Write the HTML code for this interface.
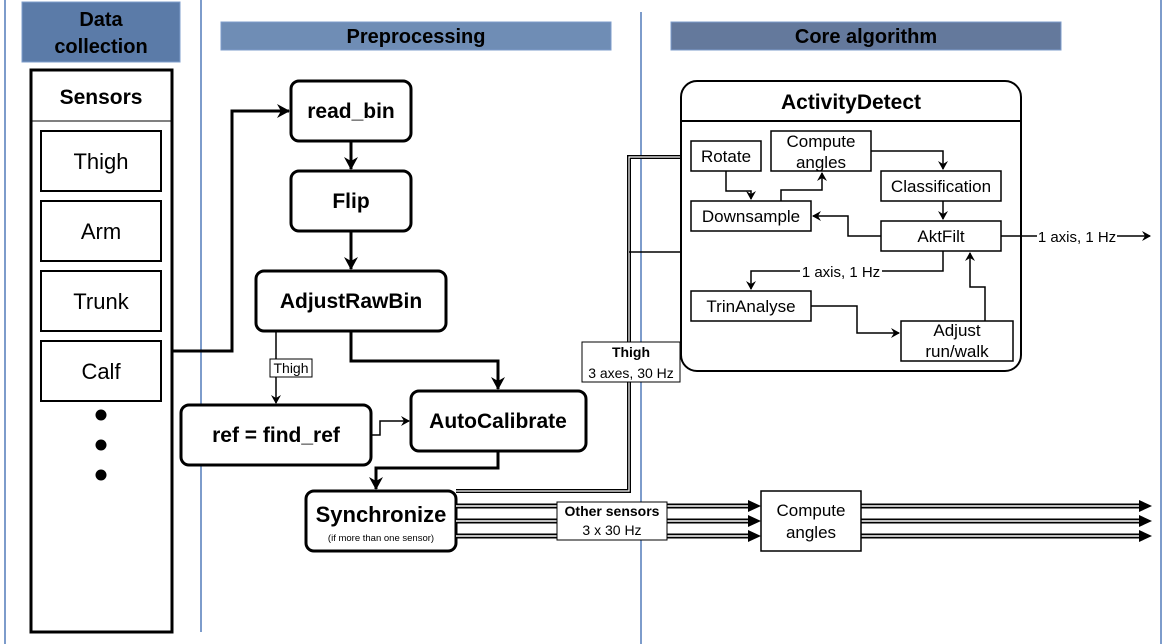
<!DOCTYPE html>
<html><head><style>
body{margin:0;background:#fff;width:1164px;height:644px;overflow:hidden}
svg{display:block;font-family:"Liberation Sans",Arial,sans-serif}
</style></head><body>
<svg width="1164" height="644" viewBox="0 0 1164 644">
<defs>
<marker id="a" markerWidth="10" markerHeight="10" refX="8" refY="5" orient="auto" markerUnits="userSpaceOnUse"><path d="M0,0 L9,5 L0,10 L3,5 z" fill="#000"/></marker>
<marker id="b" markerWidth="14" markerHeight="14" refX="12" refY="7" orient="auto" markerUnits="userSpaceOnUse"><path d="M0,0 L13,7 L0,14 L4,7 z" fill="#000"/></marker>
</defs>
<g stroke="#7d9ccb" stroke-width="2">
<line x1="5" y1="0" x2="5" y2="644"/><line x1="201" y1="0" x2="201" y2="632"/>
<line x1="641" y1="12" x2="641" y2="644"/><line x1="1161" y1="0" x2="1161" y2="644"/>
</g>
<rect x="22" y="2" width="158" height="60" fill="#5b7ba8" stroke="#7d9ccb"/>
<text x="101" y="26" font-size="20" font-weight="bold" text-anchor="middle">Data</text>
<text x="101" y="53" font-size="20" font-weight="bold" text-anchor="middle">collection</text>
<rect x="221" y="22" width="390" height="28" fill="#6f8db5" stroke="#7d9ccb"/>
<text x="416" y="43" font-size="20" font-weight="bold" text-anchor="middle">Preprocessing</text>
<rect x="671" y="22" width="390" height="28" fill="#64799c" stroke="#7d9ccb"/>
<text x="866" y="43" font-size="20" font-weight="bold" text-anchor="middle">Core algorithm</text>
<g fill="#fff" stroke="#000">
<rect x="31" y="70" width="141" height="562" stroke-width="3"/>
<line x1="31" y1="121" x2="172" y2="121" stroke-width="1"/>
<rect x="41" y="131" width="120" height="60" stroke-width="2"/>
<rect x="41" y="201" width="120" height="60" stroke-width="2"/>
<rect x="41" y="271" width="120" height="60" stroke-width="2"/>
<rect x="41" y="341" width="120" height="60" stroke-width="2"/>
</g>
<text x="101" y="104" font-size="21" font-weight="bold" text-anchor="middle">Sensors</text>
<g font-size="22" text-anchor="middle"><text x="101" y="169">Thigh</text><text x="101" y="239">Arm</text><text x="101" y="309">Trunk</text><text x="101" y="379">Calf</text></g>
<circle cx="101" cy="415" r="5.5"/><circle cx="101" cy="445" r="5.5"/><circle cx="101" cy="475" r="5.5"/>
<g fill="#fff" stroke="#000" stroke-width="3">
<rect x="291" y="81" width="120" height="60" rx="8"/>
<rect x="291" y="171" width="120" height="60" rx="8"/>
<rect x="256" y="271" width="190" height="60" rx="8"/>
<rect x="181" y="405" width="190" height="60" rx="8"/>
<rect x="411" y="391" width="175" height="60" rx="8"/>
<rect x="306" y="491" width="150" height="60" rx="8"/>
</g>
<g font-size="21" font-weight="bold" text-anchor="middle">
<text x="351" y="118">read_bin</text><text x="351" y="208">Flip</text>
<text x="351" y="308">AdjustRawBin</text><text x="276" y="442">ref = find_ref</text>
<text x="498" y="428">AutoCalibrate</text><text x="381" y="522" font-size="22">Synchronize</text>
</g>
<text x="381" y="541" font-size="9.5" text-anchor="middle">(if more than one sensor)</text>
<g fill="none" stroke="#000" stroke-width="3">
<path d="M172,351 H232 V111 H289" marker-end="url(#b)"/>
<path d="M351,141 V169" marker-end="url(#b)"/>
<path d="M351,231 V269" marker-end="url(#b)"/>
<path d="M351,331 V361 H498 V389" marker-end="url(#b)"/>
<path d="M498,451 V468 H376 V489" marker-end="url(#b)"/>
</g>
<g fill="none" stroke="#000" stroke-width="1.5">
<path d="M276,331 V403" marker-end="url(#a)"/>
<path d="M371,435 H380 V421 H409" marker-end="url(#a)"/>
</g>
<rect x="270" y="359" width="42" height="18" fill="#fff" stroke="#000" stroke-width="1"/>
<text x="291" y="373" font-size="14" text-anchor="middle">Thigh</text>
<g fill="none">
<path d="M456,491 H629 V157 H689" stroke="#000" stroke-width="4"/>
<path d="M456,491 H629 V157 H686" stroke="#fff" stroke-width="1.2"/>
<path d="M629,252 H707 V288" stroke="#000" stroke-width="1.5" marker-end="url(#a)"/>
<g stroke="#000" stroke-width="5">
<path d="M456,506 H752"/><path d="M456,521 H752"/><path d="M456,536 H752"/>
<path d="M861,506 H1142"/><path d="M861,521 H1142"/><path d="M861,536 H1142"/>
</g>
<g stroke="#fff" stroke-width="1.5">
<path d="M456,506 H750"/><path d="M456,521 H750"/><path d="M456,536 H750"/>
<path d="M861,506 H1140"/><path d="M861,521 H1140"/><path d="M861,536 H1140"/>
</g>
</g>
<g fill="#000"><path d="M748,500 L761,506 L748,512z"/><path d="M748,515 L761,521 L748,527z"/><path d="M748,530 L761,536 L748,542z"/>
<path d="M1139,500 L1152,506 L1139,512z"/><path d="M1139,515 L1152,521 L1139,527z"/><path d="M1139,530 L1152,536 L1139,542z"/></g>
<rect x="557" y="502" width="110" height="38" fill="#fff" stroke="#000" stroke-width="1"/>
<text x="612" y="516" font-size="14" font-weight="bold" text-anchor="middle">Other sensors</text>
<text x="612" y="535" font-size="14" text-anchor="middle">3 x 30 Hz</text>
<rect x="761" y="491" width="100" height="60" fill="#fff" stroke="#000" stroke-width="1.5"/>
<text x="811" y="516" font-size="17" text-anchor="middle">Compute</text>
<text x="811" y="538" font-size="17" text-anchor="middle">angles</text>
<rect x="681" y="81" width="340" height="290" rx="16" fill="#fff" stroke="#000" stroke-width="2"/>
<line x1="681" y1="121" x2="1021" y2="121" stroke="#000" stroke-width="2"/>
<text x="851" y="109" font-size="21" font-weight="bold" text-anchor="middle">ActivityDetect</text>
<rect x="582" y="342" width="98" height="40" fill="#fff" stroke="#000" stroke-width="1"/>
<text x="631" y="357" font-size="14" font-weight="bold" text-anchor="middle">Thigh</text>
<text x="631" y="378" font-size="14" text-anchor="middle">3 axes, 30 Hz</text>
<g fill="#fff" stroke="#000" stroke-width="1.5">
<rect x="691" y="141" width="70" height="30"/>
<rect x="771" y="131" width="100" height="40"/>
<rect x="881" y="171" width="120" height="30"/>
<rect x="691" y="201" width="120" height="30"/>
<rect x="881" y="221" width="120" height="30"/>
<rect x="691" y="291" width="120" height="30"/>
<rect x="901" y="321" width="112" height="40"/>
</g>
<g font-size="17" text-anchor="middle">
<text x="726" y="162">Rotate</text><text x="821" y="147">Compute</text><text x="821" y="168">angles</text>
<text x="941" y="192">Classification</text><text x="751" y="222">Downsample</text>
<text x="941" y="242">AktFilt</text><text x="751" y="312">TrinAnalyse</text>
<text x="957" y="336">Adjust</text><text x="957" y="357">run/walk</text>
</g>
<g fill="none" stroke="#000" stroke-width="1.5">
<path d="M726,171 V191 H751 V199" marker-end="url(#a)"/>
<path d="M781,201 V190 H822 V173" marker-end="url(#a)"/>
<path d="M871,151 H943 V169" marker-end="url(#a)"/>
<path d="M943,201 V219" marker-end="url(#a)"/>
<path d="M881,236 H848 V216 H813" marker-end="url(#a)"/>
<path d="M1001,236 H1150" marker-end="url(#a)"/>
<path d="M943,251 V271 H751 V289" marker-end="url(#a)"/>
<path d="M811,306 H857 V333 H899" marker-end="url(#a)"/>
<path d="M985,321 V287 H970 V253" marker-end="url(#a)"/>
</g>
<rect x="800" y="263" width="82" height="16" fill="#fff"/>
<text x="841" y="277" font-size="15" text-anchor="middle">1 axis, 1 Hz</text>
<rect x="1037" y="228" width="80" height="16" fill="#fff"/>
<text x="1077" y="242" font-size="15" text-anchor="middle">1 axis, 1 Hz</text>
</svg>
</body></html>
